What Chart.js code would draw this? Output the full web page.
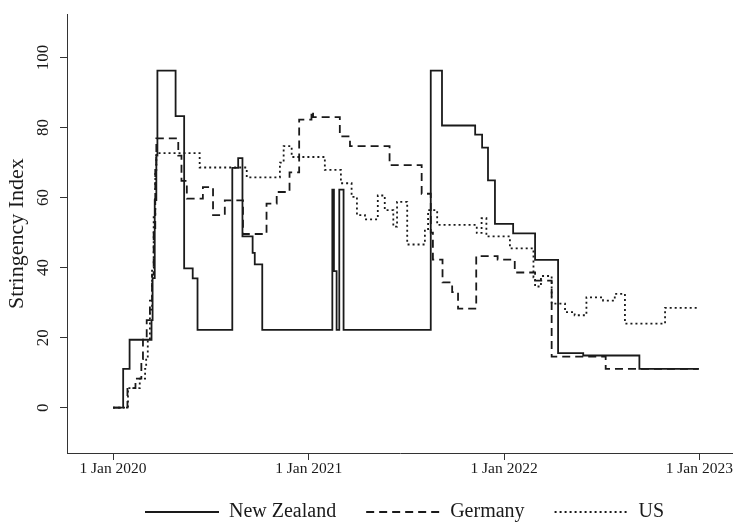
<!DOCTYPE html>
<html><head><meta charset="utf-8">
<script src="https://cdn.jsdelivr.net/npm/chart.js@4.4.1/dist/chart.umd.min.js"></script>
<style>html,body{margin:0;padding:0;background:#fff}#wrap{width:733px;height:524px}</style>
</head><body><div id="wrap"><canvas id="c" width="733" height="524"></canvas></div>
<script>
const seriesNames = ["New Zealand", "Germany", "US"];

const nzDates = ["2020-01-01","2020-01-20","2020-02-01","2020-03-13","2020-03-15","2020-03-19","2020-03-22","2020-03-24","2020-04-27","2020-05-13","2020-05-29","2020-06-07","2020-08-11","2020-08-22","2020-08-30","2020-09-18","2020-09-22","2020-10-06","2021-02-14","2021-02-17","2021-02-22","2021-02-27","2021-03-07","2021-08-17","2021-09-07","2021-11-08","2021-11-21","2021-12-02","2021-12-15","2022-01-18","2022-02-28","2022-04-12","2022-05-29","2022-09-11","2022-12-31"];
const nzValues = [0,11.1,19.4,25.0,37.0,59.3,72.0,96.3,83.3,39.8,36.9,22.2,68.5,71.3,48.9,44.2,40.9,22.2,62.3,39.0,22.2,62.3,22.2,96.3,80.6,78.0,74.3,64.9,52.5,49.8,42.2,15.6,14.9,11.1,11.1];

const deDates = ["2020-01-01","2020-01-28","2020-02-12","2020-02-23","2020-02-26","2020-03-04","2020-03-10","2020-03-14","2020-03-17","2020-03-20","2020-03-22","2020-05-02","2020-05-08","2020-05-18","2020-06-17","2020-07-06","2020-07-28","2020-08-31","2020-10-14","2020-11-02","2020-11-26","2020-12-14","2021-01-06","2021-01-09","2021-02-28","2021-03-19","2021-06-01","2021-07-31","2021-08-17","2021-08-21","2021-09-08","2021-09-26","2021-10-07","2021-11-10","2021-12-20","2022-01-21","2022-02-28","2022-03-31","2022-07-10","2022-12-31"];
const deValues = [0,5.6,8.3,13.9,19.4,25.0,30.6,38.0,50.0,68.5,76.9,72.0,64.8,59.7,63.0,55.0,59.2,49.6,58.3,61.6,67.2,82.3,84.6,83.0,77.5,74.7,69.3,61.1,50.0,42.3,35.8,33.0,28.3,43.3,42.3,38.6,36.3,14.6,11.1,11.1];

const usDates = ["2020-01-01","2020-01-29","2020-02-20","2020-03-01","2020-03-03","2020-03-06","2020-03-10","2020-03-14","2020-03-17","2020-03-20","2020-03-22","2020-06-11","2020-09-07","2020-11-08","2020-11-15","2020-11-30","2021-01-31","2021-03-02","2021-03-22","2021-04-01","2021-04-16","2021-05-10","2021-05-23","2021-06-08","2021-06-15","2021-07-04","2021-08-06","2021-08-12","2021-08-29","2021-11-11","2021-11-20","2021-11-29","2022-01-12","2022-02-25","2022-02-28","2022-03-11","2022-03-31","2022-04-25","2022-05-13","2022-06-04","2022-07-05","2022-07-27","2022-08-15","2022-10-29","2022-12-31"];
const usValues = [0,5.6,8.3,11.1,14.2,19.4,28.0,40.0,55.0,67.1,72.7,68.6,65.8,70.0,74.7,71.6,67.9,64.1,60.2,55.0,53.8,60.6,56.4,51.7,58.8,46.6,51.0,56.4,52.2,49.9,54.1,48.9,45.5,37.2,34.6,37.6,29.7,27.3,26.4,31.5,30.6,32.5,24.0,28.5,28.5];

const xTickDates = ["2020-01-01","2021-01-01","2022-01-01","2023-01-01"];
const xTickLabels = ["1 Jan 2020","1 Jan 2021","1 Jan 2022","1 Jan 2023"];
const yTickValues = [0, 20, 40, 60, 80, 100];
const yTitle = "Stringency Index";

const ORIGIN = Date.UTC(2020, 0, 1);
function dayNum(s) { const p = s.split("-").map(Number); return (Date.UTC(p[0], p[1]-1, p[2]) - ORIGIN) / 86400000; }
function pts(dates, vals) { return dates.map((d, i) => ({x: dayNum(d), y: vals[i]})); }

const FONT = "'Liberation Serif', 'Times New Roman', serif";
const INK = '#1a1a1a';

const layoutFix = {
  id: 'layoutFix',
  afterLayout(chart) {
    const lg = chart.legend;
    if (!lg || !lg.lineWidths) return;
    const lw = lg.lineWidths[0];
    const pad = lg.options.labels.padding;
    const startX = 145;
    lg.left = startX - pad - 1;
    lg.right = startX + lw + 1;
    lg.width = lg.right - lg.left;
    lg.top = 512 - pad - 10;
    lg.bottom = lg.top + 70;
    lg.height = 70;
  }
};

const ds = (label, dates, vals, dash) => ({
  label, data: pts(dates, vals), stepped: true, borderColor: INK, borderWidth: 1.8,
  borderDash: dash, pointRadius: 0, fill: false, tension: 0
});

new Chart(document.getElementById('c'), {
  type: 'line',
  data: { datasets: [
    ds(seriesNames[0], nzDates, nzValues, []),
    ds(seriesNames[1], deDates, deValues, [8, 5]),
    ds(seriesNames[2], usDates, usValues, [2, 3])
  ]},
  options: {
    responsive: false, animation: false, devicePixelRatio: 1,
    layout: { padding: {top: 8, left: 0, right: 0, bottom: 0}, autoPadding: false },
    plugins: {
      tooltip: {enabled: false},
      legend: {
        position: 'bottom',
        maxHeight: 31,
        labels: {
          usePointStyle: true, pointStyle: 'line', pointStyleWidth: 74, padding: 30,
          font: {family: FONT, size: 20}, color: INK,
          generateLabels: chart => chart.data.datasets.map((d, i) => ({
            text: d.label, fillStyle: 'rgba(0,0,0,0)', strokeStyle: d.borderColor,
            lineWidth: d.borderWidth, lineDash: d.borderDash || [], lineCap: 'butt',
            pointStyle: 'line', fontColor: INK, hidden: false, datasetIndex: i
          }))
        }
      }
    },
    scales: {
      x: {
        type: 'linear', min: -86, max: 1159,
        afterBuildTicks: s => { s.ticks = xTickDates.map(d => ({value: dayNum(d)})); },
        afterFit: s => { s.height = 40; },
        ticks: { callback: (v, i) => xTickLabels[i], autoSkip: false, maxRotation: 0, minRotation: 0, padding: 0,
                 font: {family: FONT, size: 15.5}, color: INK },
        grid: { drawOnChartArea: false, drawTicks: true, tickLength: 7, color: '#333' },
        border: { display: true, color: '#333', width: 1 }
      },
      y: {
        type: 'linear', min: -12.96, max: 112.4,
        afterBuildTicks: s => { s.ticks = yTickValues.map(v => ({value: v})); },
        afterFit: s => { s.width = 67; },
        ticks: { minRotation: 90, maxRotation: 90, crossAlign: 'center', padding: 4,
                 font: {family: FONT, size: 17}, color: INK },
        grid: { drawOnChartArea: false, drawTicks: true, tickLength: 7, color: '#333' },
        border: { display: true, color: '#333', width: 1 },
        title: { display: true, text: yTitle, font: {family: FONT, size: 22}, color: INK, padding: {top: 4, bottom: 0} }
      }
    }
  },
  plugins: [layoutFix]
});
</script></body></html>
